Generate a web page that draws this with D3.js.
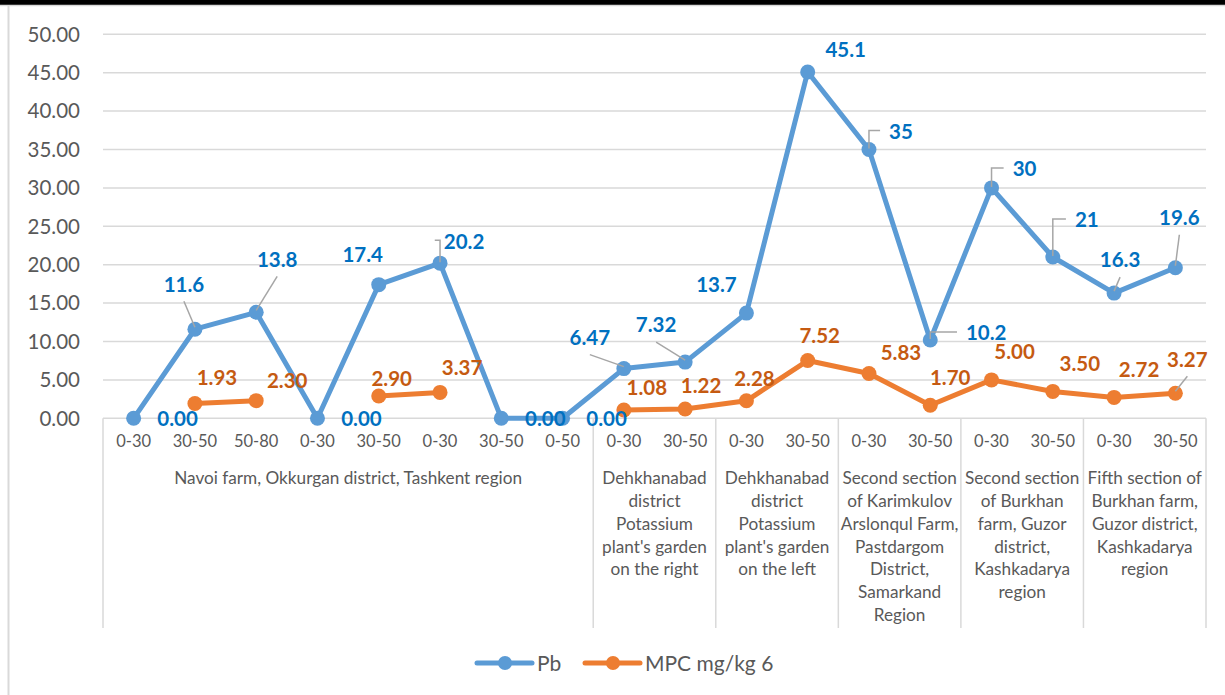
<!DOCTYPE html>
<html>
<head>
<meta charset="utf-8">
<script src="https://cdn.jsdelivr.net/npm/d3@7"></script>
<style>
  html, body { margin: 0; padding: 0; background: #fff; }
  svg { display: block; }
  text { font-family: Lato, "Open Sans", sans-serif; }
</style>
</head>
<body>
<svg id="chart" width="1225" height="695"></svg>
<script>
// Soil sampling depths (cm), one per point
const depths = ["0-30","30-50","50-80","0-30","30-50","0-30","30-50","0-50",
                "0-30","30-50","0-30","30-50","0-30","30-50","0-30","30-50","0-30","30-50"];

// Sampling sites and how many depth points each covers
const siteNames = [
  ["Navoi farm, Okkurgan district, Tashkent region"],
  ["Dehkhanabad", "district", "Potassium", "plant's garden", "on the right"],
  ["Dehkhanabad", "district", "Potassium", "plant's garden", "on the left"],
  ["Second section", "of Karimkulov", "Arslonqul Farm,", "Pastdargom", "District,", "Samarkand", "Region"],
  ["Second section", "of Burkhan", "farm, Guzor", "district,", "Kashkadarya", "region"],
  ["Fifth section of", "Burkhan farm,", "Guzor district,", "Kashkadarya", "region"]
];
const siteSizes = [8, 2, 2, 2, 2, 2];

// Lead content, mg/kg
const pbValues = [0, 11.6, 13.8, 0, 17.4, 20.2, 0, 0, 6.47, 7.32, 13.7, 45.1, 35, 10.2, 30, 21, 16.3, 19.6];
// Maximum permissible concentration, mg/kg (null = not measured)
const mpcValues = [null, 1.93, 2.30, null, 2.90, 3.37, null, null, 1.08, 1.22, 2.28, 7.52, 5.83, 1.70, 5.00, 3.50, 2.72, 3.27];

const yTicks = [0, 5, 10, 15, 20, 25, 30, 35, 40, 45, 50];
const seriesNames = ["Pb", "MPC mg/kg 6"];

// Data-label placement (pixel offsets from the point) and leader style
const pbLabelOffset = [[44,0],[-11,-45],[21,-53],[44,0],[-16,-30],[24,-22],[44,0],[44,0],
                       [-34,-31],[-29,-37],[-30,-28],[38,-22],[32,-18],[56,-7],[33,-19],[34,-37],[6,-33],[4,-50]];
const pbLeader = ["","diag","diag","","","elbow","","","diag","diag","","","elbow","elbow","elbow","elbow","diag","diag"];
const mpcLabelOffset = [null,[22,-26],[31,-20],null,[13,-17],[22,-25],null,null,
                        [23,-22],[16,-23],[8,-22],[12,-25],[32,-21],[20,-28],[23,-28],[27,-28],[25,-28],[12,-34]];
const mpcLeader = ["","","","","","","","","","","","","","","","","","diag"];

const C = {
  pb: "#5B9BD5", mpc: "#ED7D31",
  pbText: "#0070C0", mpcText: "#C55A11",
  grid: "#D9D9D9", text: "#595959", leader: "#A6A6A6"
};

const svg = d3.select("#chart");

// Outer frame
svg.append("rect").attr("x", 0).attr("y", 0).attr("width", 1225).attr("height", 5).attr("fill", "#000");
svg.append("line").attr("x1", 0).attr("x2", 1225).attr("y1", 5.5).attr("y2", 5.5)
  .attr("stroke", "#D9D9D9").attr("stroke-width", 1.5);
svg.append("line").attr("x1", 8.5).attr("x2", 8.5).attr("y1", 5).attr("y2", 695)
  .attr("stroke", "#D9D9D9").attr("stroke-width", 2);

const plotLeft = 103, plotRight = 1206, plotTop = 34.3, plotBottom = 418.3;
const axisBottom = 628;

const x = d3.scalePoint().domain(d3.range(depths.length)).range([plotLeft, plotRight]).padding(0.5);
const step = x.step();
const y = d3.scaleLinear().domain([0, 50]).range([plotBottom, plotTop]);

// Horizontal gridlines
svg.append("g").selectAll("line").data(yTicks).join("line")
  .attr("x1", plotLeft).attr("x2", plotRight)
  .attr("y1", d => y(d)).attr("y2", d => y(d))
  .attr("stroke", C.grid).attr("stroke-width", 1.5);

// Y axis labels
svg.append("g").selectAll("text").data(yTicks).join("text")
  .attr("x", 80).attr("y", d => y(d)).attr("dy", "0.36em")
  .attr("text-anchor", "end").attr("fill", C.text)
  .attr("font-size", 20.5)
  .text(d3.format(".2f"));

// Category axis: group separators
const bounds = [0];
siteSizes.forEach(s => bounds.push(bounds[bounds.length - 1] + s));
svg.append("g").selectAll("line").data(bounds).join("line")
  .attr("x1", d => plotLeft + d * step).attr("x2", d => plotLeft + d * step)
  .attr("y1", plotBottom).attr("y2", axisBottom)
  .attr("stroke", C.grid).attr("stroke-width", 1.5);

// Depth tick labels
svg.append("g").selectAll("text").data(depths).join("text")
  .attr("x", (d, i) => x(i)).attr("y", 441).attr("dy", "0.36em")
  .attr("text-anchor", "middle").attr("fill", C.text)
  .attr("font-size", 16.5)
  .text(d => d);

// Site labels
const siteG = svg.append("g");
siteNames.forEach((lines, gi) => {
  const cx = plotLeft + (bounds[gi] + siteSizes[gi] / 2) * step;
  const t = siteG.append("text").attr("text-anchor", "middle").attr("fill", C.text).attr("font-size", 17.2);
  lines.forEach((ln, li) => {
    t.append("tspan").attr("x", cx).attr("y", 478 + li * 22.8).attr("dy", "0.36em").text(ln);
  });
});

// Series lines
const line = d3.line().defined(d => d != null).x((d, i) => x(i)).y(d => y(d));
svg.append("path").datum(pbValues).attr("d", line)
  .attr("fill", "none").attr("stroke", C.pb).attr("stroke-width", 5).attr("stroke-linejoin", "round");
svg.append("path").datum(mpcValues).attr("d", line)
  .attr("fill", "none").attr("stroke", C.mpc).attr("stroke-width", 5).attr("stroke-linejoin", "round");

// Markers
svg.append("g").selectAll("circle").data(pbValues).join("circle")
  .attr("cx", (d, i) => x(i)).attr("cy", d => y(d)).attr("r", 7.5).attr("fill", C.pb);
svg.append("g").selectAll("circle")
  .data(mpcValues.map((v, i) => ({ v, i })).filter(d => d.v != null)).join("circle")
  .attr("cx", d => x(d.i)).attr("cy", d => y(d.v)).attr("r", 7.5).attr("fill", C.mpc);

// Data labels with leader lines
function drawLabels(values, offsets, leaders, color, fmt) {
  const g = svg.append("g");
  values.forEach((v, i) => {
    if (v == null) return;
    const px = x(i), py = y(v);
    const lx = px + offsets[i][0], ly = py + offsets[i][1];
    const t = g.append("text").attr("x", lx).attr("y", ly).attr("dy", "0.36em")
      .attr("text-anchor", "middle").attr("fill", color)
      .attr("font-size", 20.5).attr("font-weight", "bold")
      .text(fmt(v));
    const w = t.node().getComputedTextLength();
    let path = null;
    if (leaders[i] === "diag") {
      path = `M${lx},${ly + 17}L${px},${py - 2}`;
    } else if (leaders[i] === "elbow") {
      path = `M${lx - w / 2 - 9},${ly - 1}H${px}V${py - 1}`;
    }
    if (path) {
      g.insert("path", "text").attr("d", path).attr("fill", "none")
        .attr("stroke", C.leader).attr("stroke-width", 1.5);
    }
  });
}
drawLabels(pbValues, pbLabelOffset, pbLeader, C.pbText, v => v === 0 ? "0.00" : String(v));
drawLabels(mpcValues, mpcLabelOffset, mpcLeader, C.mpcText, d3.format(".2f"));

// Legend
const legend = svg.append("g");
const legendItems = [
  { name: seriesNames[0], color: C.pb, x0: 477 },
  { name: seriesNames[1], color: C.mpc, x0: 585 }
];
legendItems.forEach(it => {
  legend.append("line").attr("x1", it.x0).attr("x2", it.x0 + 55).attr("y1", 663).attr("y2", 663)
    .attr("stroke", it.color).attr("stroke-width", 5).attr("stroke-linecap", "round");
  legend.append("circle").attr("cx", it.x0 + 28).attr("cy", 663).attr("r", 7).attr("fill", it.color);
  legend.append("text").attr("x", it.x0 + 60).attr("y", 663).attr("dy", "0.36em")
    .attr("fill", C.text).attr("font-size", 21).text(it.name);
});
</script>
</body>
</html>
